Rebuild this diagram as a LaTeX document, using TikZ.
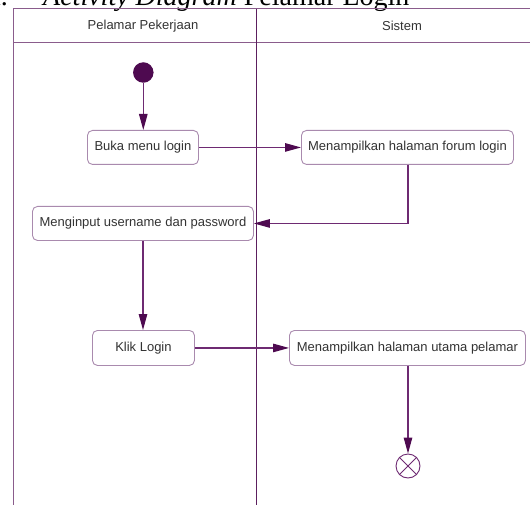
\documentclass[tikz,border=0pt]{standalone}
\usepackage{fontspec}
\setmainfont{Liberation Sans}
\newfontfamily\captionserif{Liberation Serif}
\usetikzlibrary{arrows.meta}

\definecolor{laneline}{HTML}{8A5C8C}
\definecolor{lanediv}{HTML}{5C1F5E}
\definecolor{boxline}{HTML}{A98AAE}
\definecolor{flowline}{HTML}{6E2A72}
\definecolor{tipfill}{HTML}{4E0A50}
\definecolor{labeltext}{HTML}{333333}

\tikzset{
  labelfont/.style={text=labeltext, font=\fontsize{13}{15}\selectfont},
  actbox/.style={draw=boxline, line width=0.9pt, rounded corners=5pt, fill=white,
    inner sep=0pt, anchor=north west},
  flow/.style={draw=flowline, line width=1.1pt,
    -{Triangle[length=16pt,width=8.5pt,fill=tipfill,color=tipfill]}},
}

\begin{document}
\begin{tikzpicture}[x=1pt,y=-1pt]
\useasboundingbox (0,0) rectangle (530,505);
\clip (0,0) rectangle (530,505);

% caption line above the diagram
\node[anchor=base east, inner sep=0pt, font=\captionserif\fontsize{28}{30}\selectfont] (capa) at (8,5.5) {a.};
\node[anchor=base west, inner sep=0pt, font=\captionserif\fontsize{28}{30}\selectfont] (capt) at (43,5.5) {\textit{Activity Diagram} Pelamar Login};

% swimlanes
\draw[laneline, line width=1pt] (13,505) -- (13,9) -- (531,9);
\draw[laneline, line width=1pt] (13,43) -- (531,43);
\draw[lanediv, line width=1pt] (256.5,9) -- (256.5,505);
\node[labelfont] (h1) at (143,26) {Pelamar Pekerjaan};
\node[labelfont] (h2) at (402,26) {Sistem};

% start and end states
\node[circle, fill=tipfill, minimum size=20.5pt, inner sep=0pt] (start) at (143.3,72.5) {};
\node[circle, draw=flowline, line width=0.9pt, fill=white, minimum size=24pt, inner sep=0pt] (stop) at (408,466) {};
\draw[flowline, line width=0.9pt] (stop.north west) -- (stop.south east);
\draw[flowline, line width=0.9pt] (stop.north east) -- (stop.south west);

% activities
\node[actbox, minimum width=111pt, minimum height=34pt] (buka) at (87,130) {};
\node[labelfont] at (buka.center) {Buka menu login};
\node[actbox, minimum width=212pt, minimum height=34pt] (form) at (301,130) {};
\node[labelfont] at (form.center) {Menampilkan halaman forum login};
\node[actbox, minimum width=221pt, minimum height=34pt] (input) at (32,206) {};
\node[labelfont] at (input.center) {Menginput username dan password};
\node[actbox, minimum width=102pt, minimum height=35pt] (klik) at (92,330) {};
\node[labelfont] at (klik.center) {Klik Login};
\node[actbox, minimum width=236pt, minimum height=35pt] (utama) at (289,330) {};
\node[labelfont] at (utama.center) {Menampilkan halaman utama pelamar};

% control flow
\draw[flow] (start) -- (start |- buka.north);
\draw[flow] (buka) -- (form);
\draw[flow] (form.south -| 408,0) |- (input.east);
\draw[flow] (input.south -| 143,0) -- (klik.north -| 143,0);
\draw[flow] (klik) -- (utama);
\draw[flow] (utama.south -| stop) -- (stop);
\end{tikzpicture}
\end{document}
